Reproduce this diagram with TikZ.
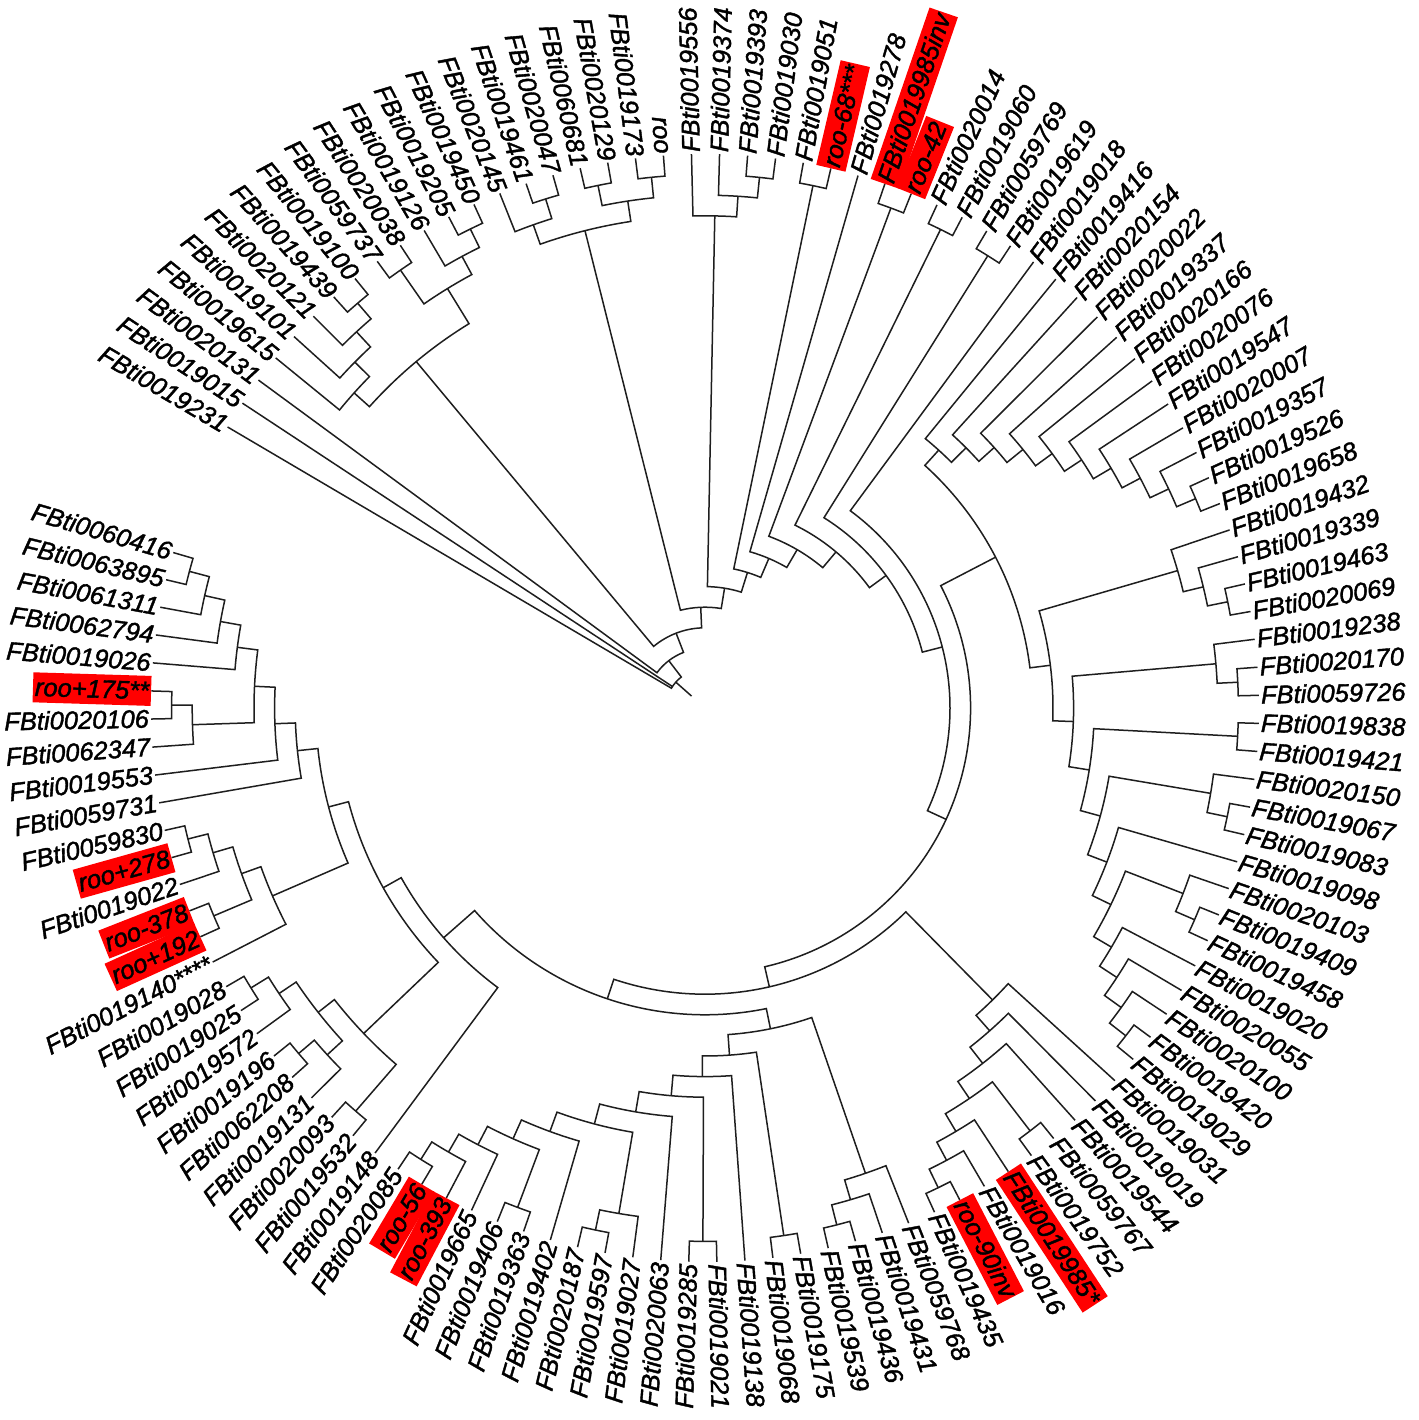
\documentclass[tikz,border=0pt]{standalone}
\usepackage{fontspec}
\setmainfont{Liberation Sans}[ItalicFeatures={FakeBold=1.5}]
\definecolor{brc}{RGB}{30,30,30}
\definecolor{hlred}{RGB}{255,0,0}
\def\Rt{554}
\def\Dh{20.6}
\newcommand\setA[2]{\expandafter\xdef\csname TA@#1\endcsname{#2}}
\newcommand\setH[2]{\expandafter\xdef\csname TH@#1\endcsname{#2}}
\newcommand\getA[1]{\csname TA@#1\endcsname}
\newcommand\getH[1]{\csname TH@#1\endcsname}
\newcommand\Leaf[3][]{%
  \pgfmathsetmacro\tmpA{#2<101 ? 91.4-(#2-1)*2.906 : 91.4+(121-#2)*2.906}%
  \setA{#2}{\tmpA}\setH{#2}{0}%
  \pgfmathsetmacro\tmpN{\tmpA<-180 ? \tmpA+360 : \tmpA}%
  \pgfmathtruncatemacro\tmpS{and(\tmpN>-90.5,\tmpN<92) ? 1 : 0}%
  \coordinate (n#2) at (\tmpA:\Rt pt);%
  \ifnum\tmpS=1
    \node[lbl,#1,rotate=\tmpN,anchor=west] (L#2) at (n#2) {#3};%
  \else
    \pgfmathsetmacro\tmpR{\tmpN-180}%
    \node[lbl,#1,rotate=\tmpR,anchor=east] (L#2) at (n#2) {#3};%
  \fi
}
\newcommand\Nd[3]{%
  \edef\aA{\getA{#2}}\edef\aB{\getA{#3}}%
  \edef\hA{\getH{#2}}\edef\hB{\getH{#3}}%
  \pgfmathsetmacro\tmpA{(\aA+\aB)/2}%
  \pgfmathtruncatemacro\tmpH{max(\hA,\hB)+1}%
  \setA{#1}{\tmpA}\setH{#1}{\tmpH}%
  \pgfmathsetmacro\rr{\Rt-\Dh*\tmpH}%
  \coordinate (n#1) at (\tmpA:\rr pt);%
  \draw[br] (n#2) -- (\aA:\rr pt) arc[start angle=\aA, end angle=\aB, radius=\rr pt] -- (n#3);%
}
\newcommand\NdIII[4]{%
  \edef\aA{\getA{#2}}\edef\aB{\getA{#3}}\edef\aC{\getA{#4}}%
  \edef\hA{\getH{#2}}\edef\hB{\getH{#3}}\edef\hC{\getH{#4}}%
  \pgfmathsetmacro\tmpA{(\aA+\aC)/2}%
  \pgfmathtruncatemacro\tmpH{max(\hA,\hB,\hC)+1}%
  \setA{#1}{\tmpA}\setH{#1}{\tmpH}%
  \pgfmathsetmacro\rr{\Rt-\Dh*\tmpH}%
  \coordinate (n#1) at (\tmpA:\rr pt);%
  \draw[br] (n#2) -- (\aA:\rr pt) arc[start angle=\aA, end angle=\aC, radius=\rr pt] -- (n#4);%
  \draw[br] (n#3) -- (\aB:\rr pt);%
}
\begin{document}
\begin{tikzpicture}[
  br/.style={line width=1.5pt, draw=brc},
  lbl/.style={font=\fontsize{25.5}{30}\selectfont\itshape, inner xsep=2pt, inner ysep=1.5pt, text height=22pt, text depth=5pt},
  hl/.style={fill=hlred}]
\fill[white] (-705pt,-712pt) rectangle (713pt,708pt);
\useasboundingbox (-705pt,-712pt) rectangle (713pt,708pt);
% leaves
\Leaf{1}{FBti0019556}
\Leaf{2}{FBti0019374}
\Leaf{3}{FBti0019393}
\Leaf{4}{FBti0019030}
\Leaf{5}{FBti0019051}
\Leaf[hl]{6}{roo-68***}
\Leaf{7}{FBti0019278}
\Leaf[hl]{8}{FBti0019985inv}
\Leaf[hl]{9}{roo-42}
\Leaf{10}{FBti0020014}
\Leaf{11}{FBti0019060}
\Leaf{12}{FBti0059769}
\Leaf{13}{FBti0019619}
\Leaf{14}{FBti0019018}
\Leaf{15}{FBti0019416}
\Leaf{16}{FBti0020154}
\Leaf{17}{FBti0020022}
\Leaf{18}{FBti0019337}
\Leaf{19}{FBti0020166}
\Leaf{20}{FBti0020076}
\Leaf{21}{FBti0019547}
\Leaf{22}{FBti0020007}
\Leaf{23}{FBti0019357}
\Leaf{24}{FBti0019526}
\Leaf{25}{FBti0019658}
\Leaf{26}{FBti0019432}
\Leaf{27}{FBti0019339}
\Leaf{28}{FBti0019463}
\Leaf{29}{FBti0020069}
\Leaf{30}{FBti0019238}
\Leaf{31}{FBti0020170}
\Leaf{32}{FBti0059726}
\Leaf{33}{FBti0019838}
\Leaf{34}{FBti0019421}
\Leaf{35}{FBti0020150}
\Leaf{36}{FBti0019067}
\Leaf{37}{FBti0019083}
\Leaf{38}{FBti0019098}
\Leaf{39}{FBti0020103}
\Leaf{40}{FBti0019409}
\Leaf{41}{FBti0019458}
\Leaf{42}{FBti0019020}
\Leaf{43}{FBti0020055}
\Leaf{44}{FBti0020100}
\Leaf{45}{FBti0019420}
\Leaf{46}{FBti0019029}
\Leaf{47}{FBti0019031}
\Leaf{48}{FBti0019019}
\Leaf{49}{FBti0019544}
\Leaf{50}{FBti0059767}
\Leaf{51}{FBti0019752}
\Leaf[hl]{52}{FBti0019985*}
\Leaf{53}{FBti0019016}
\Leaf[hl]{54}{roo-90inv}
\Leaf{55}{FBti0019435}
\Leaf{56}{FBti0059768}
\Leaf{57}{FBti0019431}
\Leaf{58}{FBti0019436}
\Leaf{59}{FBti0019539}
\Leaf{60}{FBti0019175}
\Leaf{61}{FBti0019068}
\Leaf{62}{FBti0019138}
\Leaf{63}{FBti0019021}
\Leaf{64}{FBti0019285}
\Leaf{65}{FBti0020063}
\Leaf{66}{FBti0019027}
\Leaf{67}{FBti0019597}
\Leaf{68}{FBti0020187}
\Leaf{69}{FBti0019402}
\Leaf{70}{FBti0019363}
\Leaf{71}{FBti0019406}
\Leaf{72}{FBti0019665}
\Leaf[hl]{73}{roo-393}
\Leaf[hl]{74}{roo-56}
\Leaf{75}{FBti0020085}
\Leaf{76}{FBti0019148}
\Leaf{77}{FBti0019532}
\Leaf{78}{FBti0020093}
\Leaf{79}{FBti0019131}
\Leaf{80}{FBti0062208}
\Leaf{81}{FBti0019196}
\Leaf{82}{FBti0019572}
\Leaf{83}{FBti0019025}
\Leaf{84}{FBti0019028}
\Leaf{85}{FBti0019140****}
\Leaf[hl]{86}{roo+192}
\Leaf[hl]{87}{roo-378}
\Leaf{88}{FBti0019022}
\Leaf[hl]{89}{roo+278}
\Leaf{90}{FBti0059830}
\Leaf{91}{FBti0059731}
\Leaf{92}{FBti0019553}
\Leaf{93}{FBti0062347}
\Leaf{94}{FBti0020106}
\Leaf[hl]{95}{roo+175**}
\Leaf{96}{FBti0019026}
\Leaf{97}{FBti0062794}
\Leaf{98}{FBti0061311}
\Leaf{99}{FBti0063895}
\Leaf{100}{FBti0060416}
\Leaf{101}{FBti0019231}
\Leaf{102}{FBti0019015}
\Leaf{103}{FBti0020131}
\Leaf{104}{FBti0019615}
\Leaf{105}{FBti0019101}
\Leaf{106}{FBti0020121}
\Leaf{107}{FBti0019439}
\Leaf{108}{FBti0019100}
\Leaf{109}{FBti0059737}
\Leaf{110}{FBti0020038}
\Leaf{111}{FBti0019126}
\Leaf{112}{FBti0019205}
\Leaf{113}{FBti0019450}
\Leaf{114}{FBti0020145}
\Leaf{115}{FBti0019461}
\Leaf{116}{FBti0020047}
\Leaf{117}{FBti0060681}
\Leaf{118}{FBti0020129}
\Leaf{119}{FBti0019173}
\Leaf{120}{roo}
% top groups
\Nd{c34}{3}{4}\Nd{B}{2}{c34}\Nd{A}{1}{B}
\Nd{c56}{5}{6}
\Nd{c89}{8}{9}
\Nd{c1011}{10}{11}
\Nd{c1213}{12}{13}
% upper right ladder
\Nd{k1}{24}{25}\Nd{k2}{23}{k1}\Nd{k3}{22}{k2}\Nd{k4}{21}{k3}\Nd{k5}{20}{k4}
\Nd{k6}{19}{k5}\Nd{k7}{18}{k6}\Nd{k8}{17}{k7}\Nd{k9}{16}{k8}\Nd{k10}{15}{k9}
% right side
\Nd{g1}{28}{29}\Nd{g2}{27}{g1}\Nd{g3}{26}{g2}
\Nd{s31}{31}{32}\Nd{s2}{30}{s31}
\Nd{c3334}{33}{34}
\Nd{c3637}{36}{37}\Nd{x35}{35}{c3637}
\Nd{c4041}{40}{41}\Nd{x39}{39}{c4041}
\Nd{s11}{45}{46}\Nd{s10}{44}{s11}\Nd{s9}{43}{s10}\Nd{s8}{42}{s9}
\Nd{s7}{x39}{s8}\Nd{s6}{38}{s7}\Nd{s5}{x35}{s6}\Nd{s4}{c3334}{s5}
\Nd{s3}{s2}{s4}\Nd{s1}{g3}{s3}\Nd{s0}{k10}{s1}
% lower right
\Nd{t55}{54}{55}\Nd{t6}{53}{t55}\Nd{t5}{52}{t6}\Nd{c5051}{50}{51}
\Nd{t4}{c5051}{t5}\Nd{t3}{49}{t4}\Nd{t2}{48}{t3}\Nd{t1}{47}{t2}
% bottom
\Nd{c5859}{58}{59}\Nd{z2}{57}{c5859}\Nd{z1}{56}{z2}
\Nd{c6061}{60}{61}\Nd{c6364}{63}{64}
\Nd{c6768}{67}{68}\Nd{xc}{66}{c6768}
\Nd{c7475}{74}{75}\Nd{w3}{73}{c7475}\Nd{w}{72}{w3}\Nd{c7071}{70}{71}
\Nd{v}{c7071}{w}\Nd{xb}{69}{v}\Nd{xa}{xc}{xb}\Nd{x}{65}{xa}
\Nd{u8}{c6364}{x}\Nd{u9}{62}{u8}\Nd{u10}{c6061}{u9}\Nd{u11}{z1}{u10}
% left
\Nd{l1}{99}{100}\Nd{l2}{98}{l1}\Nd{l3}{97}{l2}\Nd{l4}{96}{l3}
\Nd{m1}{94}{95}\Nd{m2}{93}{m1}\Nd{l5}{m2}{l4}\Nd{l6}{92}{l5}\Nd{l7}{91}{l6}
\Nd{kk1}{89}{90}\Nd{kk2}{88}{kk1}\Nd{kk3}{86}{87}\Nd{kk4}{kk3}{kk2}\Nd{kk5}{85}{kk4}
\Nd{l8}{kk5}{l7}
\Nd{j1}{83}{84}\Nd{j2}{82}{j1}\Nd{j3}{80}{81}\Nd{j4}{79}{j3}\Nd{j5}{j4}{j2}
\Nd{j6}{77}{78}\Nd{j7}{j6}{j5}\Nd{l9}{j7}{l8}\Nd{l10}{76}{l9}
% backbone
\Nd{p12}{u11}{l10}\Nd{p13}{t1}{p12}\Nd{p14}{s0}{p13}\Nd{p15}{14}{p14}
\Nd{r16}{c1213}{p15}\Nd{r17}{c1011}{r16}\Nd{r18}{c89}{r17}
\Nd{r19}{7}{r18}\Nd{r20}{c56}{r19}\Nd{r21}{A}{r20}
% upper left
\Nd{q1}{119}{120}\Nd{q2}{117}{118}\Nd{q3}{q2}{q1}\Nd{q4}{115}{116}\Nd{q5}{114}{q4}\Nd{q6}{q5}{q3}
\Nd{r22}{q6}{r21}
\Nd{p1}{107}{108}\Nd{p2}{106}{p1}\Nd{p3}{105}{p2}\Nd{p4}{104}{p3}
\Nd{g12}{112}{113}\Nd{g11}{111}{g12}\Nd{g10}{109}{110}\Nd{gg}{g10}{g11}\Nd{y}{p4}{gg}
\Nd{r23}{y}{r22}\Nd{r24}{103}{r23}
\NdIII{root}{101}{102}{r24}
\edef\ra{\getA{root}}
\coordinate (rootbase) at (\ra:18pt);
\draw[br] (nroot) -- (rootbase);
\end{tikzpicture}
\end{document}
